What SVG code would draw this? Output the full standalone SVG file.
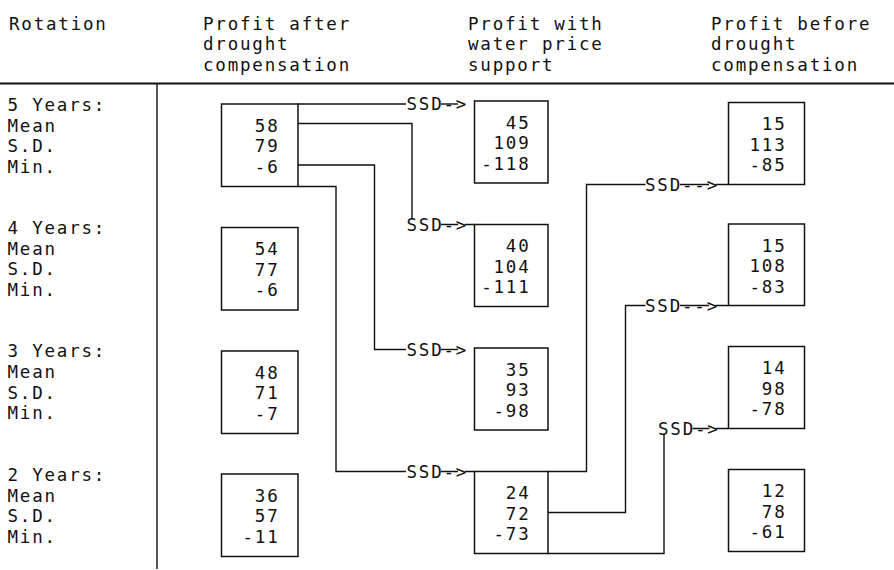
<svg xmlns="http://www.w3.org/2000/svg" width="894" height="570" viewBox="0 0 894 570">
<style>
text{font-family:"DejaVu Sans Mono","Liberation Mono",monospace;font-size:17.5px;letter-spacing:1.8px;fill:#111}
.n{text-anchor:end}
.box{fill:none;stroke:#111;stroke-width:1.5}
.ln{fill:none;stroke:#111;stroke-width:1.4}
.rule{stroke:#111;stroke-width:2}
</style>
<rect width="894" height="570" fill="#fff"/>
<g id="header">
<text x="9" y="29.5">Rotation</text>
<text x="203" y="29.5">Profit after</text>
<text x="203" y="50">drought</text>
<text x="203" y="70.5">compensation</text>
<text x="468" y="29.5">Profit with</text>
<text x="468" y="50">water price</text>
<text x="468" y="70.5">support</text>
<text x="711" y="29.5">Profit before</text>
<text x="711" y="50">drought</text>
<text x="711" y="70.5">compensation</text>
<line class="rule" x1="0" y1="83.5" x2="894" y2="83.5"/>
<line class="ln" x1="157" y1="83.5" x2="157" y2="569"/>
</g>
<g id="row-labels">
<text x="7.5" y="110.5">5 Years:</text><text x="7.5" y="131.5">Mean</text><text x="7.5" y="152">S.D.</text><text x="7.5" y="172.5">Min.</text>
<text x="7.5" y="233.8">4 Years:</text><text x="7.5" y="254.8">Mean</text><text x="7.5" y="275.3">S.D.</text><text x="7.5" y="295.8">Min.</text>
<text x="7.5" y="357.1">3 Years:</text><text x="7.5" y="378.1">Mean</text><text x="7.5" y="398.6">S.D.</text><text x="7.5" y="419.1">Min.</text>
<text x="7.5" y="480.5">2 Years:</text><text x="7.5" y="501.5">Mean</text><text x="7.5" y="522">S.D.</text><text x="7.5" y="542.5">Min.</text>
</g>
<g id="a5"><rect class="box" x="221.5" y="104" width="76.5" height="82.5"/><text class="n" x="279.5" y="131.5">58</text><text class="n" x="279.5" y="152">79</text><text class="n" x="279.5" y="172.5">-6</text></g>
<g id="a4"><rect class="box" x="221.5" y="227.5" width="76.5" height="82.5"/><text class="n" x="279.5" y="255">54</text><text class="n" x="279.5" y="275.5">77</text><text class="n" x="279.5" y="296">-6</text></g>
<g id="a3"><rect class="box" x="221.5" y="351" width="76.5" height="82.5"/><text class="n" x="279.5" y="378.5">48</text><text class="n" x="279.5" y="399">71</text><text class="n" x="279.5" y="419.5">-7</text></g>
<g id="a2"><rect class="box" x="221.5" y="474" width="76.5" height="82.5"/><text class="n" x="279.5" y="501.5">36</text><text class="n" x="279.5" y="522">57</text><text class="n" x="279.5" y="542.5">-11</text></g>
<g id="w5"><rect class="box" x="474.5" y="101" width="73.5" height="82"/><text class="n" x="530.5" y="128.5">45</text><text class="n" x="530.5" y="149">109</text><text class="n" x="530.5" y="169.5">-118</text></g>
<g id="w4"><rect class="box" x="474.5" y="224.5" width="73.5" height="82"/><text class="n" x="530.5" y="252">40</text><text class="n" x="530.5" y="272.5">104</text><text class="n" x="530.5" y="293">-111</text></g>
<g id="w3"><rect class="box" x="474.5" y="348" width="73.5" height="82"/><text class="n" x="530.5" y="375.5">35</text><text class="n" x="530.5" y="396">93</text><text class="n" x="530.5" y="416.5">-98</text></g>
<g id="w2"><rect class="box" x="474.5" y="471.5" width="73.5" height="82"/><text class="n" x="530.5" y="499">24</text><text class="n" x="530.5" y="519.5">72</text><text class="n" x="530.5" y="540">-73</text></g>
<g id="b5"><rect class="box" x="728.5" y="102.5" width="76" height="82"/><text class="n" x="786.5" y="130">15</text><text class="n" x="786.5" y="150.5">113</text><text class="n" x="786.5" y="171">-85</text></g>
<g id="b4"><rect class="box" x="728.5" y="224" width="76" height="81.5"/><text class="n" x="786.5" y="251.5">15</text><text class="n" x="786.5" y="272">108</text><text class="n" x="786.5" y="292.5">-83</text></g>
<g id="b3"><rect class="box" x="728.5" y="346.5" width="76" height="82"/><text class="n" x="786.5" y="374">14</text><text class="n" x="786.5" y="394.5">98</text><text class="n" x="786.5" y="415">-78</text></g>
<g id="b2"><rect class="box" x="728.5" y="469.5" width="76" height="82"/><text class="n" x="786.5" y="497">12</text><text class="n" x="786.5" y="517.5">78</text><text class="n" x="786.5" y="538">-61</text></g>
<g id="connectors">
<path class="ln" d="M298 104H406"/>
<text x="406.5" y="110.3">SSD-&gt;</text><path class="ln" d="M441 104H458"/>
<path class="ln" d="M298 123.5H412V218"/>
<text x="406.5" y="230.8">SSD-&gt;</text><path class="ln" d="M441 224.5H458M465 224.5H474.5"/>
<path class="ln" d="M298 165H374.5V349.5H406"/>
<text x="406.5" y="355.8">SSD-&gt;</text><path class="ln" d="M441 349.5H458"/>
<path class="ln" d="M298 186.5H336V471.5H406"/>
<text x="406.5" y="477.8">SSD-&gt;</text><path class="ln" d="M441 471.5H458M465 471.5H474.5"/>
<path class="ln" d="M548 471.5H586.5V184.5H645.5"/>
<text x="645" y="190.8">SSD--&gt;</text><path class="ln" d="M680 184.5H709M715.5 184.5H728.5"/>
<path class="ln" d="M548 512.5H625.5V305.5H645.5"/>
<text x="645" y="311.8">SSD--&gt;</text><path class="ln" d="M680 305.5H709M715.5 305.5H728.5"/>
<path class="ln" d="M548 553.5H664V434.8"/>
<text x="658" y="434.8">SSD-&gt;</text><path class="ln" d="M692.5 428.5H709.5M716 428.5H728.5"/>
</g>
</svg>
